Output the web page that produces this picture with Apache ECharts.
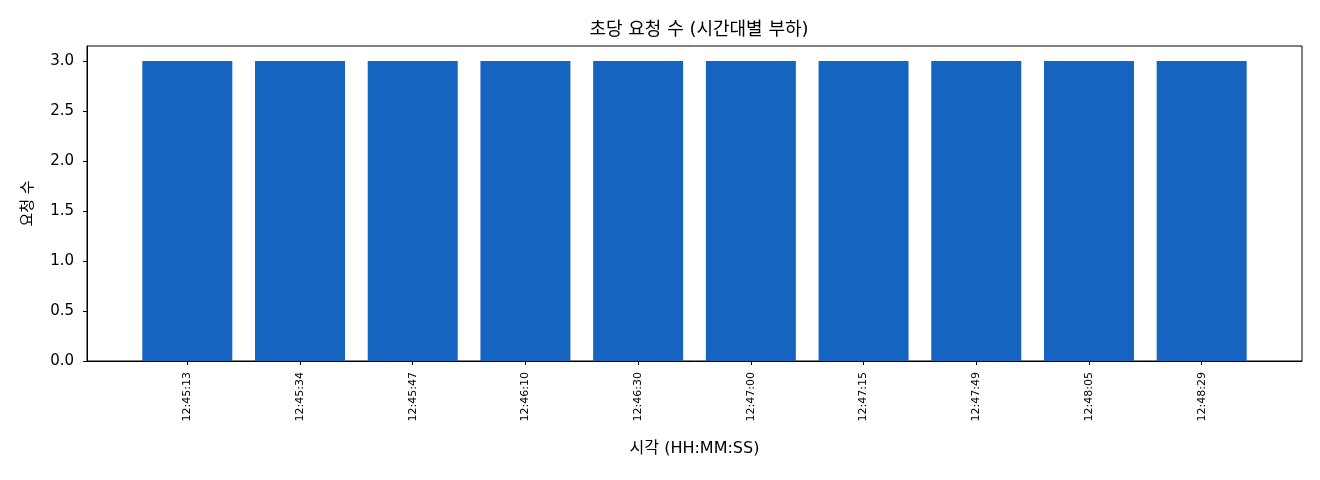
<!DOCTYPE html>
<html><head><meta charset="utf-8">
<script src="https://cdn.jsdelivr.net/npm/echarts@6/dist/echarts.min.js"></script>
<style>html,body{margin:0;padding:0;background:#fff}#c{width:1320px;height:480px}</style>
</head><body><div id="c"></div>
<script>
const categories = ["12:45:13","12:45:34","12:45:47","12:46:10","12:46:30","12:47:00","12:47:15","12:47:49","12:48:05","12:48:29"];
const requests = [3,3,3,3,3,3,3,3,3,3];
const yTicks = [0,0.5,1.0,1.5,2.0,2.5,3.0];
const chartTitle = "초당 요청 수 (시간대별 부하)";
const xName = "시각 (HH:MM:SS)";
const yName = "요청 수";

const FONT = "'DejaVu Sans', 'Noto Sans CJK KR', sans-serif";
const idx = categories.map((_, i) => i);
const n = categories.length;
const pad = 0.4 + 0.05 * (n - 1 + 0.8);
const chart = echarts.init(document.getElementById('c'), null, {renderer: 'canvas'});
chart.setOption({
  animation: false,
  backgroundColor: '#fff',
  title: {text: chartTitle, left: 694, top: 16, textAlign: 'center',
    textStyle: {fontFamily: FONT, fontSize: 18, fontWeight: 'normal', color: '#000'}},
  grid: {left: 87, right: 18, top: 46, bottom: 119, show: true, borderColor: '#000', borderWidth: 1, backgroundColor: 'transparent'},
  xAxis: {
    type: 'value', min: -pad, max: n - 1 + pad,
    name: xName, nameLocation: 'middle', nameGap: 80,
    nameTextStyle: {fontFamily: FONT, fontSize: 16, color: '#000'},
    splitLine: {show: false},
    axisLine: {show: true, onZero: false, lineStyle: {color: '#000', width: 1}},
    axisTick: {show: true, customValues: idx, length: 4, lineStyle: {color: '#000'}},
    axisLabel: {customValues: idx, rotate: 90, fontFamily: FONT, fontSize: 11, color: '#000', margin: 11,
      formatter: v => categories[Math.round(v)] ?? ''}
  },
  yAxis: {
    type: 'value', min: 0, max: 3.15,
    name: yName, nameLocation: 'middle', nameGap: 51, nameRotate: 90,
    nameTextStyle: {fontFamily: FONT, fontSize: 15, color: '#000'},
    splitLine: {show: false},
    axisLine: {show: true, onZero: false, lineStyle: {color: '#000', width: 1}},
    axisTick: {show: true, customValues: yTicks, length: 4, lineStyle: {color: '#000'}},
    axisLabel: {customValues: yTicks, fontFamily: FONT, fontSize: 15, color: '#000', margin: 13,
      formatter: v => v.toFixed(1)}
  },
  series: [{
    type: 'bar',
    data: idx.map(i => [i, requests[i]]),
    barWidth: 90,
    itemStyle: {color: '#1565C0'}
  }]
});
</script></body></html>
